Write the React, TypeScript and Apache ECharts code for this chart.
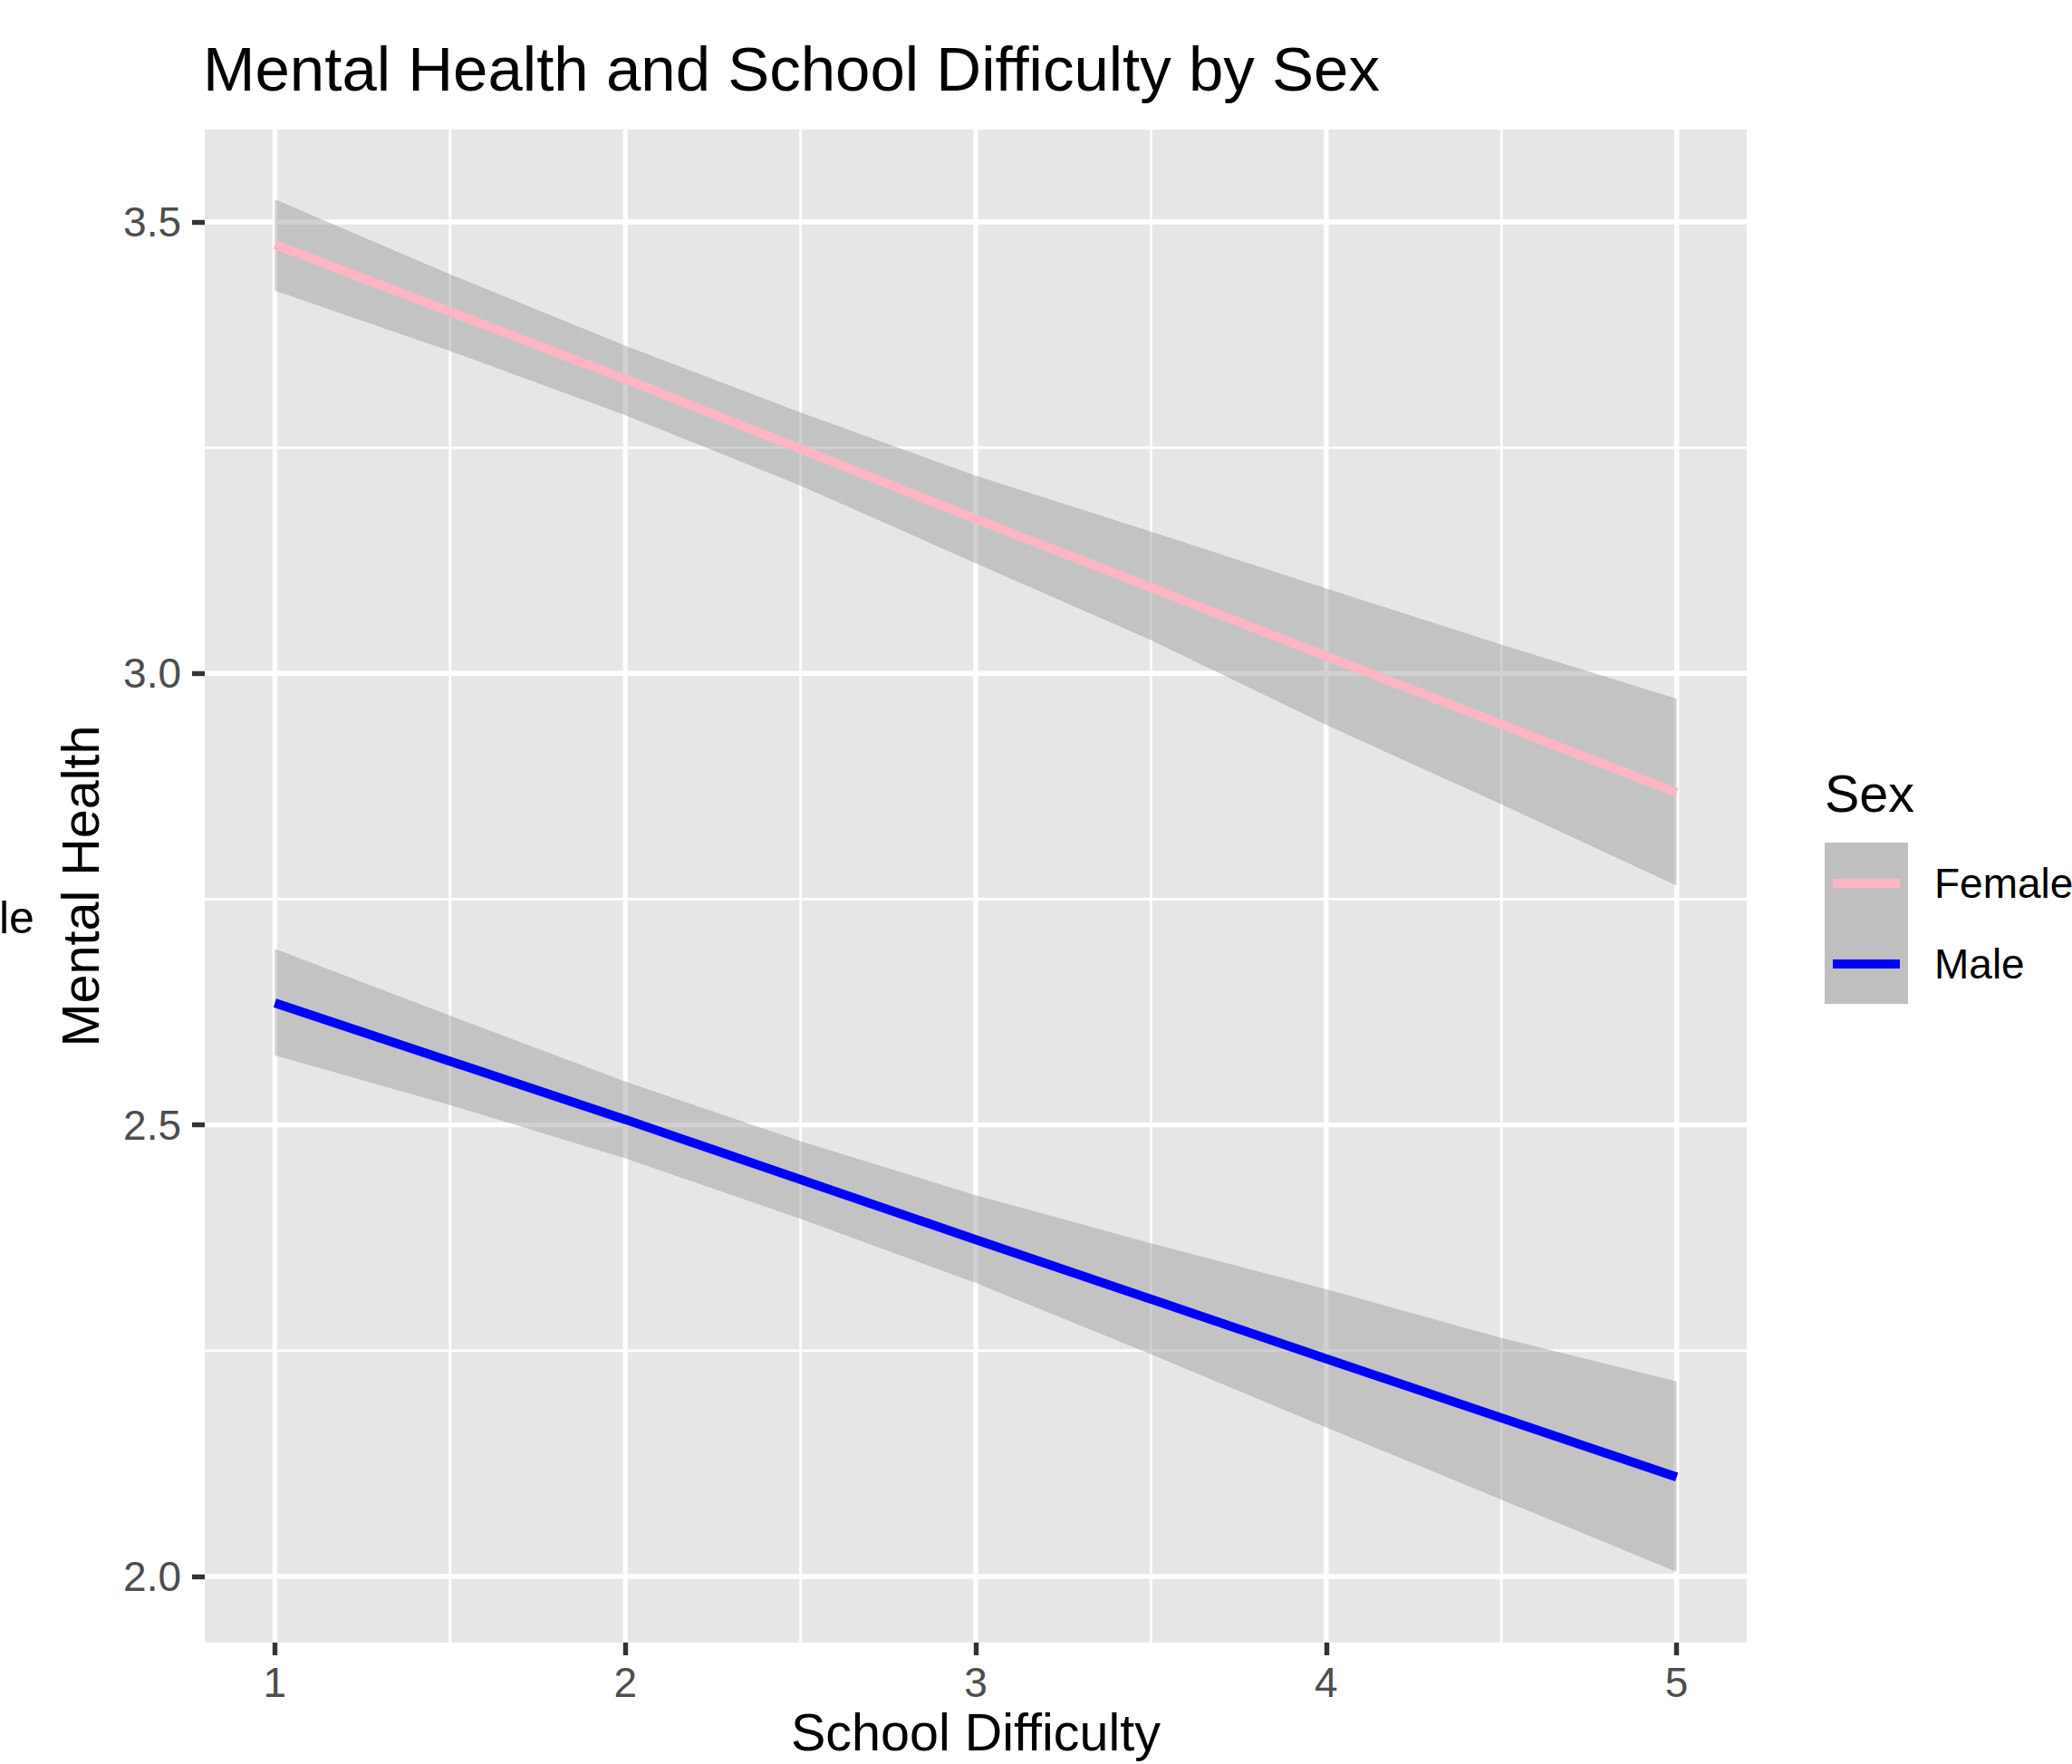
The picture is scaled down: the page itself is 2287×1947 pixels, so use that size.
import React, { useEffect, useRef } from "react";
import * as echarts from "echarts";

// ---- data ----
const bandX = [1, 1.5, 2, 2.5, 3, 3.5, 4, 4.5, 5];
const fitX = [1, 2, 3, 4, 5];

const femaleFit = [3.475, 3.326, 3.171, 3.019, 2.868];
const femaleUpper = [3.525, 3.442, 3.363, 3.289, 3.219, 3.157, 3.094, 3.032, 2.972];
const femaleLower = [3.424, 3.357, 3.286, 3.208, 3.122, 3.037, 2.943, 2.855, 2.765];

const maleFit = [2.635, 2.506, 2.373, 2.241, 2.11];
const maleUpper = [2.695, 2.621, 2.548, 2.482, 2.422, 2.369, 2.318, 2.264, 2.216];
const maleLower = [2.577, 2.522, 2.463, 2.396, 2.325, 2.246, 2.165, 2.085, 2.005];

const xTicks = [1, 2, 3, 4, 5];
const xMinor = [1.5, 2.5, 3.5, 4.5];
const yTicks = [2.0, 2.5, 3.0, 3.5];
const yMinor = [2.25, 2.75, 3.25];

const seriesNames = ["Female", "Male"];
const titleText = "Mental Health and School Difficulty by Sex";
const xTitle = "School Difficulty";
const yTitle = "Mental Health";
const legendTitle = "Sex";

// ---- styles ----
const FONT = "'Liberation Sans', Arial, Helvetica, sans-serif";
const PANEL = "#E6E6E6";
const RIBBON = "rgba(153,153,153,0.45)";
const PINK = "#FFB5C4";
const BLUE = "#0000FF";
const X_MIN = 0.8;
const X_MAX = 5.2;
const Y_MIN = 1.9267;
const Y_MAX = 3.6023;

function ribbonSeries(upper: number[], lower: number[]) {
  return {
    type: "custom",
    z: 2,
    silent: true,
    data: [[bandX[0], upper[0]]],
    encode: { x: 0, y: 1 },
    renderItem: (_params: any, api: any) => {
      const top = bandX.map((x, i) => api.coord([x, upper[i]]));
      const bottom = bandX.map((x, i) => api.coord([x, lower[i]])).reverse();
      return {
        type: "polygon",
        shape: { points: top.concat(bottom) },
        style: { fill: RIBBON },
      };
    },
  };
}

function gridSeries() {
  return {
    type: "custom",
    z: 1,
    silent: true,
    data: [[xTicks[0], yTicks[0]]],
    encode: { x: 0, y: 1 },
    renderItem: (params: any, api: any) => {
      const cs = params.coordSys;
      const children: any[] = [];
      const vline = (v: number, w: number) => {
        const p = api.coord([v, yTicks[0]]);
        children.push({
          type: "line",
          shape: { x1: p[0], y1: cs.y, x2: p[0], y2: cs.y + cs.height },
          style: { stroke: "#FFFFFF", lineWidth: w },
        });
      };
      const hline = (v: number, w: number) => {
        const p = api.coord([xTicks[0], v]);
        children.push({
          type: "line",
          shape: { x1: cs.x, y1: p[1], x2: cs.x + cs.width, y2: p[1] },
          style: { stroke: "#FFFFFF", lineWidth: w },
        });
      };
      xMinor.forEach((v) => vline(v, 2.8));
      yMinor.forEach((v) => hline(v, 2.8));
      xTicks.forEach((v) => vline(v, 5.4));
      yTicks.forEach((v) => hline(v, 5.4));
      return { type: "group", children };
    },
  };
}

function lineSeries(name: string, values: number[], color: string) {
  return {
    type: "line",
    name,
    z: 3,
    silent: true,
    symbol: "none",
    data: fitX.map((x, i) => [x, values[i]]),
    lineStyle: { color, width: 10, cap: "butt" },
  };
}

function txt(text: string, x: number, y: number, size: number, align: string, extra: any = {}) {
  return {
    type: "text",
    x,
    y,
    silent: true,
    ...extra,
    style: {
      text,
      fontSize: size,
      fontFamily: FONT,
      fill: "#000000",
      align,
      textAlign: align,
      verticalAlign: "middle",
      textVerticalAlign: "middle",
    },
  };
}

export default function App() {
  const ref = useRef<HTMLDivElement>(null);

  useEffect(() => {
    if (!ref.current) return;
    const chart = echarts.init(ref.current, null, { renderer: "svg" });
    const axisLabelStyle = {
      color: "#4D4D4D",
      fontSize: 46,
      fontFamily: FONT,
    };
    chart.setOption({
      animation: false,
      backgroundColor: "#FFFFFF",
      grid: {
        left: 226,
        top: 143,
        width: 1702,
        height: 1670,
        show: true,
        backgroundColor: PANEL,
        borderWidth: 0,
        containLabel: false,
      },
      xAxis: {
        type: "value",
        min: X_MIN,
        max: X_MAX,
        axisLine: { show: false },
        splitLine: { show: false },
        axisTick: {
          show: true,
          length: 14,
          customValues: xTicks,
          lineStyle: { color: "#333333", width: 5.4 },
        },
        axisLabel: {
          ...axisLabelStyle,
          margin: 21,
          customValues: xTicks,
          formatter: (v: number) => String(v),
        },
      },
      yAxis: {
        type: "value",
        min: Y_MIN,
        max: Y_MAX,
        axisLine: { show: false },
        splitLine: { show: false },
        axisTick: {
          show: true,
          length: 14,
          customValues: yTicks,
          lineStyle: { color: "#333333", width: 5.4 },
        },
        axisLabel: {
          ...axisLabelStyle,
          margin: 26,
          customValues: yTicks,
          formatter: (v: number) => v.toFixed(1),
        },
      },
      series: [
        gridSeries(),
        ribbonSeries(femaleUpper, femaleLower),
        ribbonSeries(maleUpper, maleLower),
        lineSeries(seriesNames[0], femaleFit, PINK),
        lineSeries(seriesNames[1], maleFit, BLUE),
      ],
      graphic: [
        txt(titleText, 224, 76, 69, "left"),
        txt(xTitle, 1077, 1912, 57.5, "center"),
        txt(yTitle, 89, 978, 57.5, "center", { rotation: Math.PI / 2 }),
        txt("le", -1, 1013, 50, "left"),
        txt(legendTitle, 2014, 876, 57.5, "left"),
        {
          type: "rect",
          silent: true,
          shape: { x: 2014, y: 930, width: 92, height: 178 },
          style: { fill: "#BFBFBF" },
        },
        {
          type: "line",
          silent: true,
          shape: { x1: 2023, y1: 975, x2: 2097, y2: 975 },
          style: { stroke: PINK, lineWidth: 10 },
        },
        {
          type: "line",
          silent: true,
          shape: { x1: 2023, y1: 1064, x2: 2097, y2: 1064 },
          style: { stroke: BLUE, lineWidth: 10 },
        },
        txt(seriesNames[0], 2135, 975, 46, "left"),
        txt(seriesNames[1], 2135, 1064, 46, "left"),
      ],
    });
    return () => chart.dispose();
  }, []);

  return (
    <div
      ref={ref}
      style={{ position: "fixed", left: 0, top: 0, width: 2287, height: 1947, background: "#FFFFFF" }}
    />
  );
}
